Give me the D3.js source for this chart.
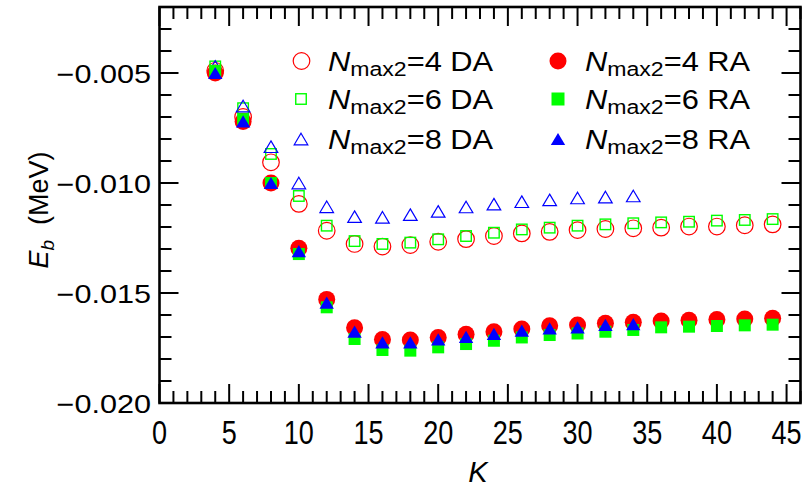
<!DOCTYPE html>
<html><head><meta charset="utf-8">
<script src="https://cdn.jsdelivr.net/npm/d3@7"></script>
<style>
html,body{margin:0;padding:0;background:#fff;}
svg{display:block;}
text{font-family:"Liberation Sans",Arial,sans-serif;fill:#000;}
</style></head>
<body>
<svg id="chart" width="807" height="491"></svg>
<script>
// ---- data ----
const K_all = [4,6,8,10,12,14,16,18,20,22,24,26,28,30,32,34,36,38,40,42,44];
const K_8 = [4,6,8,10,12,14,16,18,20,22,24,26,28,30,32,34];
const DA4 = [-0.0049,-0.0070,-0.00906,-0.01095,-0.01217,-0.01277,-0.01289,-0.01282,-0.01267,-0.01255,-0.01241,-0.01229,-0.01222,-0.01214,-0.01209,-0.01206,-0.01203,-0.01198,-0.01198,-0.01192,-0.01188];
const DA6 = [-0.0047,-0.0066,-0.00868,-0.01059,-0.01194,-0.01264,-0.01277,-0.01271,-0.01256,-0.01241,-0.01226,-0.01211,-0.01203,-0.01194,-0.01188,-0.01183,-0.01179,-0.01176,-0.01171,-0.01168,-0.01164];
const DA8 = [-0.0047,-0.0065,-0.00835,-0.0100,-0.01108,-0.01153,-0.01156,-0.01144,-0.01129,-0.01109,-0.01096,-0.01085,-0.01077,-0.01068,-0.01064,-0.01059];
const RA4 = [-0.0050,-0.0072,-0.0100,-0.01297,-0.01529,-0.01658,-0.01711,-0.01714,-0.01702,-0.01688,-0.01676,-0.01664,-0.01649,-0.01645,-0.01638,-0.01633,-0.01627,-0.01624,-0.01620,-0.01618,-0.01615];
const RA6 = [-0.0049,-0.0071,-0.0100,-0.01323,-0.01565,-0.01709,-0.01759,-0.01762,-0.01747,-0.01732,-0.01717,-0.01702,-0.01691,-0.01684,-0.01676,-0.01668,-0.01656,-0.01653,-0.01650,-0.01647,-0.01644];
const RA8 = [-0.0050,-0.0072,-0.0100,-0.0131,-0.01544,-0.01676,-0.01724,-0.01724,-0.01711,-0.01699,-0.01686,-0.01671,-0.01661,-0.01656,-0.01645,-0.01641];
const xTicks = [0,5,10,15,20,25,30,35,40,45];
const yTicks = [-0.020,-0.015,-0.010,-0.005];
const yTickLabels = ["\u22120.020","\u22120.015","\u22120.010","\u22120.005"];
const legendNums = ["4","6","8"];

// ---- layout ----
const svg = d3.select("#chart");
const L = 159.5, R = 800.5, T = 7, B = 403;
const x = d3.scaleLinear().domain([0,46]).range([L,R]);
const y = d3.scaleLinear().domain([-0.020,-0.002]).range([B,T]);

const RED="#ff0000", GREEN="#00ff00", BLUE="#0000ff";

// ticks (inward) on all four sides
const tickG = svg.append("g").attr("stroke","#000").attr("stroke-width",2);
const xMinor = d3.range(0,47,1);
const yMinor = d3.range(-0.020,-0.0019,0.001).map(v=>+v.toFixed(4));
xMinor.forEach(k=>{
  const major = k%5===0;
  const len = major?19:12;
  const px = x(k);
  tickG.append("line").attr("x1",px).attr("x2",px).attr("y1",B).attr("y2",B-len);
  tickG.append("line").attr("x1",px).attr("x2",px).attr("y1",T).attr("y2",T+len);
});
yMinor.forEach(v=>{
  const major = Math.abs(Math.round(v*1000))%5===0;
  const len = major?19:12;
  const py = y(v);
  tickG.append("line").attr("x1",L).attr("x2",L+len).attr("y1",py).attr("y2",py);
  tickG.append("line").attr("x1",R).attr("x2",R-len).attr("y1",py).attr("y2",py);
});
svg.append("rect").attr("x",L).attr("y",T).attr("width",R-L).attr("height",B-T)
  .attr("fill","none").attr("stroke","#000").attr("stroke-width",2.6);

// tick labels
xTicks.forEach(k=>{
  svg.append("text").attr("transform",`translate(${x(k)},444) scale(0.82,1)`)
    .attr("text-anchor","middle").attr("font-size",33).text(k);
});
yTicks.forEach((v,i)=>{
  svg.append("text").attr("transform",`translate(151,${y(v)+9.5}) scale(1.2,1)`)
    .attr("text-anchor","end").attr("font-size",25.5).text(yTickLabels[i]);
});

// axis titles
svg.append("text").attr("x",(L+R)/2-2).attr("y",482).attr("text-anchor","middle")
  .attr("font-size",29).attr("font-style","italic").text("K");
const yt = svg.append("text").attr("transform","translate(48,210) rotate(-90)")
  .attr("text-anchor","middle").attr("font-size",27);
yt.append("tspan").attr("font-style","italic").text("E");
yt.append("tspan").attr("font-style","italic").attr("font-size",19).attr("dy",6).text("b");
yt.append("tspan").attr("dy",-6).text("\u00a0\u00a0(MeV)");

// marker drawers
function tri(cx,cy,s){ // s = half width
  const h = s*1.7;
  return `M${cx},${cy-h/2}L${cx+s},${cy+h/2}L${cx-s},${cy+h/2}Z`;
}
function drawCircles(ks,vals,filled,r){
  svg.append("g").selectAll("circle").data(ks.map((k,i)=>[k,vals[i]])).join("circle")
    .attr("cx",d=>x(d[0])).attr("cy",d=>y(d[1])).attr("r",r)
    .attr("fill",filled?RED:"none").attr("stroke",filled?"none":RED).attr("stroke-width",1.2);
}
function drawSquares(ks,vals,filled,s){
  svg.append("g").selectAll("rect").data(ks.map((k,i)=>[k,vals[i]])).join("rect")
    .attr("x",d=>x(d[0])-s/2).attr("y",d=>y(d[1])-s/2).attr("width",s).attr("height",s)
    .attr("fill",filled?GREEN:"none").attr("stroke",filled?"none":GREEN).attr("stroke-width",1.4);
}
function drawTris(ks,vals,filled,s){
  svg.append("g").selectAll("path").data(ks.map((k,i)=>[k,vals[i]])).join("path")
    .attr("d",d=>tri(x(d[0]),y(d[1]),s))
    .attr("fill",filled?BLUE:"none").attr("stroke",filled?"none":BLUE).attr("stroke-width",1.2);
}
drawCircles(K_all,DA4,false,8.3);
drawSquares(K_all,DA6,false,10.5);
drawTris(K_8,DA8,false,6.8);
drawCircles(K_all,RA4,true,8.5);
drawSquares(K_all,RA6,true,12);
drawTris(K_8,RA8,true,7.2);

// legend
const rowsY = [61,99,139];
function legText(xp,yp,num,suffix){
  const t = svg.append("text").attr("transform",`translate(${xp},${yp+10}) scale(1.1,1)`).attr("font-size",28);
  t.append("tspan").attr("font-style","italic").text("N");
  t.append("tspan").attr("font-size",21).attr("dy",5).text("max2");
  t.append("tspan").attr("dy",-5).text("="+num+" "+suffix);
}
// left column (DA)
svg.append("circle").attr("cx",301.5).attr("cy",rowsY[0]).attr("r",8.3).attr("fill","none").attr("stroke",RED).attr("stroke-width",1.2);
svg.append("rect").attr("x",301-5.25).attr("y",rowsY[1]-5.25).attr("width",10.5).attr("height",10.5).attr("fill","none").attr("stroke",GREEN).attr("stroke-width",1.4);
svg.append("path").attr("d",tri(301,rowsY[2],6.8)).attr("fill","none").attr("stroke",BLUE).attr("stroke-width",1.2);
legendNums.forEach((n,i)=>legText(328,rowsY[i],n,"DA"));
// right column (RA)
svg.append("circle").attr("cx",558).attr("cy",rowsY[0]).attr("r",8.5).attr("fill",RED);
svg.append("rect").attr("x",558-6.5).attr("y",rowsY[1]-6.5).attr("width",13).attr("height",13).attr("fill",GREEN);
svg.append("path").attr("d",tri(558,rowsY[2],7.2)).attr("fill",BLUE);
legendNums.forEach((n,i)=>legText(585,rowsY[i],n,"RA"));
</script>
</body></html>
